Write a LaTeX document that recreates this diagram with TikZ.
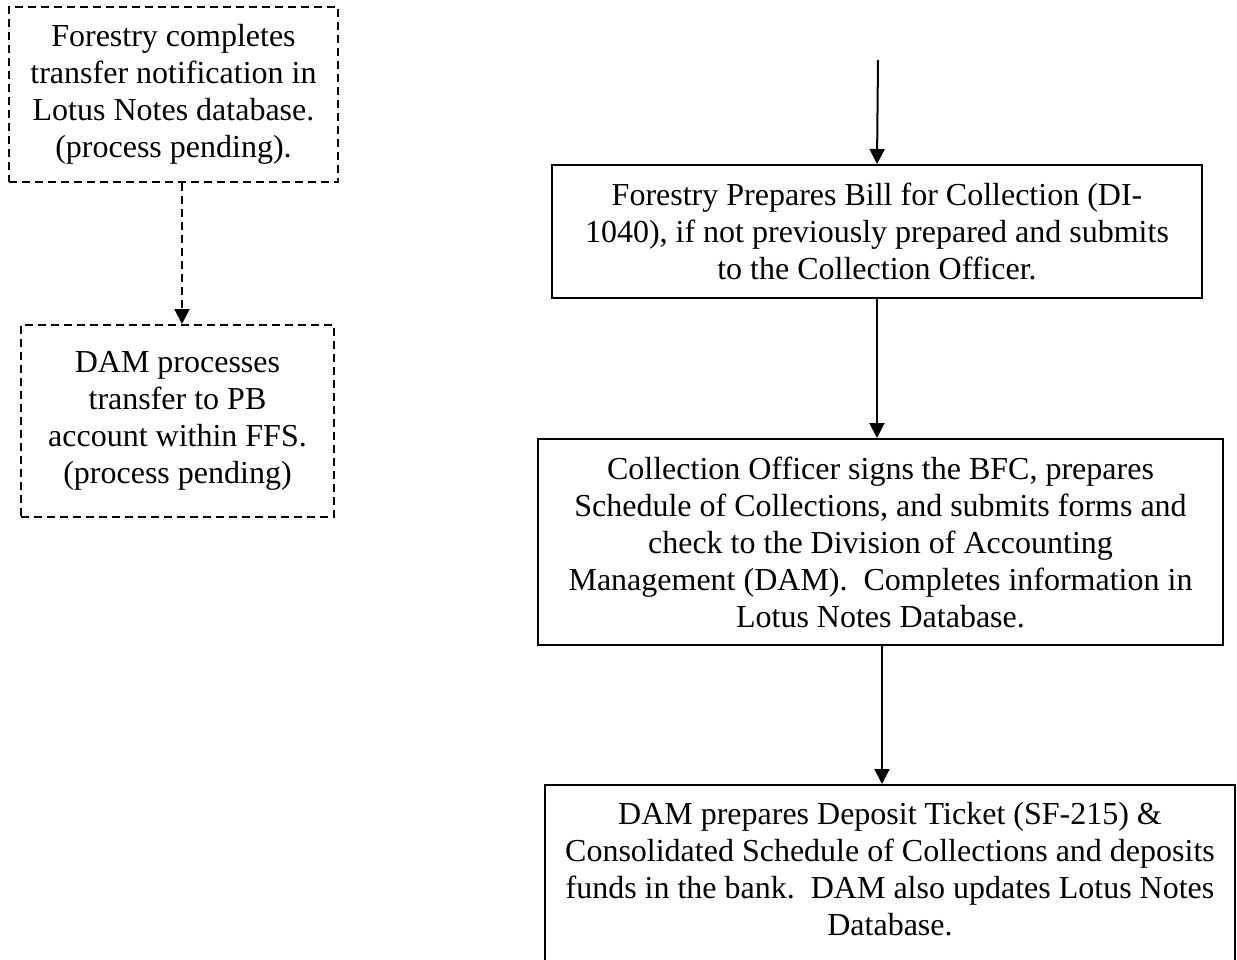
\documentclass[tikz,border=0pt]{standalone}
\usepackage{fontspec}
\setmainfont{Liberation Serif}
\usepackage{tikz}
\usetikzlibrary{arrows.meta}

\begin{document}
\begin{tikzpicture}[x=0.5pt, y=-0.5pt, line width=1pt,
box_style/.style={rectangle,draw=black,align=center,inner sep=0pt,font=\fontsize{16}{18.5}\selectfont},
pending_style/.style={box_style,dash pattern=on 4pt off 2.5pt},
edge_style/.style={draw=black, line width=1pt, -{Triangle[length=7.5pt,width=7.5pt]}}]
\useasboundingbox (0,0) rectangle (1237,959);

\node[pending_style, minimum width=164.5pt, minimum height=87.5pt] (notify) at (173.5,94.5)
  {Forestry completes\\transfer notification in\\Lotus Notes database.\\(process pending).};
\node[pending_style, minimum width=156.5pt, minimum height=96pt] (transfer) at (177.5,421)
  {DAM processes\\transfer to PB\\account within FFS.\\(process pending)};

\coordinate (start) at (878,60);
\node[box_style, minimum width=325pt, minimum height=66.5pt] (bill) at (877,231.5)
  {Forestry Prepares Bill for Collection (DI-\\1040), if not previously prepared and submits\\to the Collection Officer.};
\node[box_style, minimum width=342.5pt, minimum height=103pt] (officer) at (880.5,542)
  {Collection Officer signs the BFC, prepares\\Schedule of Collections, and submits forms and\\check to the Division of Accounting\\Management (DAM).\ \ Completes information in\\Lotus Notes Database.};
\node[box_style, minimum width=345pt, minimum height=102.5pt] (deposit) at (890,887.5)
  {DAM prepares Deposit Ticket (SF-215) \&\\Consolidated Schedule of Collections and deposits\\funds in the bank.\ \ DAM also updates Lotus Notes\\Database.\\ \mbox{}};

\draw[edge_style, dash pattern=on 4pt off 2.5pt] ([xshift=4.25pt]notify.south) -- ([xshift=2.25pt]transfer.north);
\draw[edge_style] (start) -- (bill.north);
\draw[edge_style] (bill.south) -- (bill.south |- officer.north);
\draw[edge_style] ([xshift=0.75pt]officer.south) -- ([xshift=0.75pt]officer.south |- deposit.north);
\end{tikzpicture}
\end{document}
